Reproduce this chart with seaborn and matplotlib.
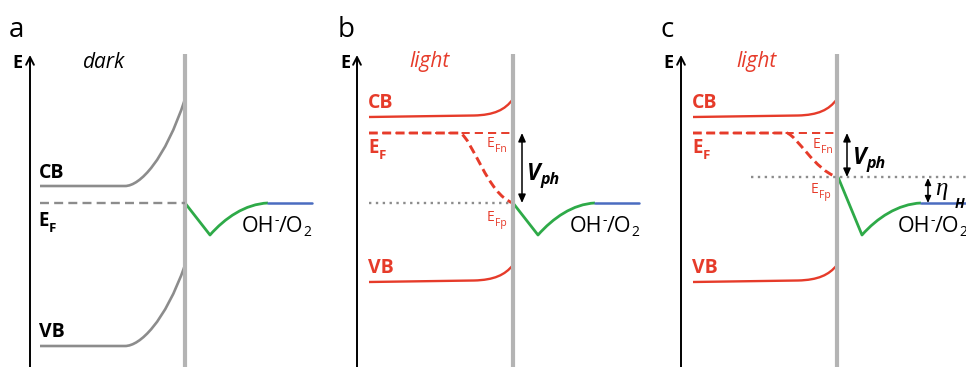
import matplotlib
matplotlib.use("Agg")
import matplotlib.pyplot as plt
from matplotlib.path import Path
from matplotlib.patches import PathPatch
import seaborn as sns
import pandas as pd

sns.set_style("white")
plt.rcParams["font.family"] = ["Open Sans", "DejaVu Sans"]

RED = "#e63b2a"
GREEN = "#2eaa48"
BLUE = "#4a6cc0"
GREY = "#8c8c8c"
WALL = "#b4b4b4"

# ---- energy levels (screen px; energy grows upward = smaller y) ----
# each bent level: flat start, bend start, two Bezier handles, surface value

# panel a: dark
dark_cb = [(40, 186), (125, 186), (140, 186), (165, 160), (185, 99)]
dark_vb = [(40, 346), (125, 346), (140, 346), (165, 322), (185, 265)]
dark_ef_x = [40, 185]
dark_ef = [203, 203]

# panels b, c: illuminated
light_b_cb = [(369, 117), (474, 115.5), (494, 115), (505, 110), (513, 99)]
light_b_vb = [(369, 282), (474, 280.5), (494, 280), (505, 275), (513, 265)]
light_c_cb = [(693, 117), (798, 115.5), (818, 115), (829, 110), (837, 99)]
light_c_vb = [(693, 282), (798, 280.5), (818, 280), (829, 275), (837, 265)]

efn_level = 133
efp_b = [(369, 133), (460, 133), (472, 138), (488, 195), (513, 203)]
efp_c = [(693, 133), (787, 133), (797, 136), (815, 170), (837, 177)]

# electrolyte side: Helmholtz layer drop, then redox level
helm_a = [(185, 203), (210, 235), (225, 218), (245, 204), (268, 203)]
helm_b = [(513, 203), (538, 235), (553, 218), (573, 204), (595, 203)]
helm_c = [(838, 177), (862, 235), (877, 218), (898, 204), (921, 203)]
redox_level = 203
redox_x = [(268, 312), (595, 639), (921, 966)]

fig = plt.figure(figsize=(9.66, 3.67), dpi=100)
ax = fig.add_axes([0, 0, 1, 1])
ax.set_xlim(0, 966)
ax.set_ylim(367, 0)
ax.axis("off")


def line(x, y, color, lw, **kw):
    df = pd.DataFrame({"x": x, "y": y})
    sns.lineplot(data=df, x="x", y="y", ax=ax, color=color, lw=lw,
                 sort=False, estimator=None, legend=False, **kw)


def bent(pts, color, lw, dashes=None):
    """Straight segment followed by a cubic Bezier bend."""
    codes = [Path.MOVETO, Path.LINETO, Path.CURVE4, Path.CURVE4, Path.CURVE4]
    patch = PathPatch(Path(pts, codes), fill=False, edgecolor=color, lw=lw,
                      capstyle="butt", joinstyle="round")
    if dashes is not None:
        patch.set_linestyle((0, dashes))
    ax.add_patch(patch)


# interface walls and energy axes
for wx in [185, 513, 837]:
    line([wx, wx], [54, 367], WALL, 3.0, solid_capstyle="butt")
for axx in [30, 357, 681]:
    ax.annotate("", xy=(axx, 55), xytext=(axx, 368),
                arrowprops=dict(arrowstyle="->,head_length=0.55,head_width=0.28",
                                color="black", lw=1.4, shrinkA=0, shrinkB=0))

# panel a bands
bent(dark_cb, GREY, 1.9)
bent(dark_vb, GREY, 1.9)
line(dark_ef_x, dark_ef, GREY, 1.7, dashes=(3.8, 2.2))

# panels b, c bands
for cb, vb in [(light_b_cb, light_b_vb), (light_c_cb, light_c_vb)]:
    bent(cb, RED, 1.7)
    bent(vb, RED, 1.7)
    line([cb[0][0], cb[-1][0]], [efn_level, efn_level], RED, 1.4, dashes=(4.2, 2.6))
bent(efp_b, RED, 2.1, dashes=(3.0, 1.6))
bent(efp_c, RED, 2.1, dashes=(3.0, 1.6))

# dotted quasi-Fermi level of holes at the surface
line([369, 513], [203, 203], GREY, 1.7, dashes=(1.0, 1.9))
line([751, 966], [177, 177], GREY, 1.7, dashes=(1.0, 1.9))

# electrolyte side
for h in [helm_a, helm_b, helm_c]:
    bent(h, GREEN, 2.0)
for x0, x1 in redox_x:
    line([x0, x1], [redox_level, redox_level], BLUE, 1.8)

# photovoltage / overpotential arrows
arrow_kw = dict(arrowstyle="<|-|>,head_length=0.5,head_width=0.22",
                color="black", lw=1.1, shrinkA=0, shrinkB=0)
ax.annotate("", xy=(522, 133), xytext=(522, 203), arrowprops=arrow_kw)
ax.annotate("", xy=(847, 133), xytext=(847, 177), arrowprops=arrow_kw)
ax.annotate("", xy=(928, 178), xytext=(928, 203),
            arrowprops=dict(arrowstyle="<|-|>,head_length=0.4,head_width=0.18",
                            color="black", lw=1.1, shrinkA=0, shrinkB=0))

renderer = fig.canvas.get_renderer()


def label(x, y, parts, color="black", family=None):
    """Draw consecutive text pieces: (text, size, weight, style, dy)."""
    for s, size, weight, style, dy in parts:
        kw = {}
        if family:
            kw["family"] = family
        t = ax.text(x, y + dy, s, fontsize=size, fontweight=weight,
                    fontstyle=style, color=color, ha="left", va="baseline", **kw)
        x += t.get_window_extent(renderer=renderer).width


# panel letters, axis names, conditions
for px, letter in zip([9, 338, 660], ["a", "b", "c"]):
    label(px, 37, [(letter, 20, "normal", "normal", 0)])
for ex in [12, 340, 663]:
    label(ex, 68, [("E", 13, "bold", "normal", 0)])
label(83, 68, [("dark", 15, "normal", "italic", 0)])
label(409, 67, [("light", 15, "normal", "italic", 0)], RED)
label(736, 67, [("light", 15, "normal", "italic", 0)], RED)

# band labels
label(39, 178, [("CB", 14, "bold", "normal", 0)])
label(38, 226, [("E", 13.5, "bold", "normal", 0), ("F", 9.5, "bold", "normal", 6)])
label(39, 337, [("VB", 14, "bold", "normal", 0)])
for bx0 in [368, 692]:
    label(bx0, 108, [("CB", 14, "bold", "normal", 0)], RED)
    label(bx0, 153, [("E", 13.5, "bold", "normal", 0), ("F", 9.5, "bold", "normal", 6)], RED)
    label(bx0, 273, [("VB", 14, "bold", "normal", 0)], RED)

# quasi-Fermi level labels
label(487, 147, [("E", 10, "normal", "normal", 0), ("Fn", 7.5, "normal", "normal", 5)], RED)
label(487, 221, [("E", 10, "normal", "normal", 0), ("Fp", 7.5, "normal", "normal", 5)], RED)
label(813, 148, [("E", 10, "normal", "normal", 0), ("Fn", 7.5, "normal", "normal", 5)], RED)
label(811, 193, [("E", 10, "normal", "normal", 0), ("Fp", 7.5, "normal", "normal", 5)], RED)

# photovoltage labels
label(527, 180, [("V", 16.5, "bold", "italic", 0), ("ph", 11.5, "bold", "italic", 4)])
label(853, 164, [("V", 16.5, "bold", "italic", 0), ("ph", 11.5, "bold", "italic", 4)])

# overpotential
label(935, 195, [("η", 18, "normal", "italic", 0)], family="Liberation Serif")
label(955, 208, [("H", 10, "bold", "italic", 0)])

# redox couple
for ox in [242, 570, 898]:
    label(ox, 232, [("OH", 15.5, "normal", "normal", 0), ("-", 10, "normal", "normal", -8),
                    ("/O", 15.5, "normal", "normal", 0), ("2", 10, "normal", "normal", 4)])

fig.savefig("out.png", dpi=100)
